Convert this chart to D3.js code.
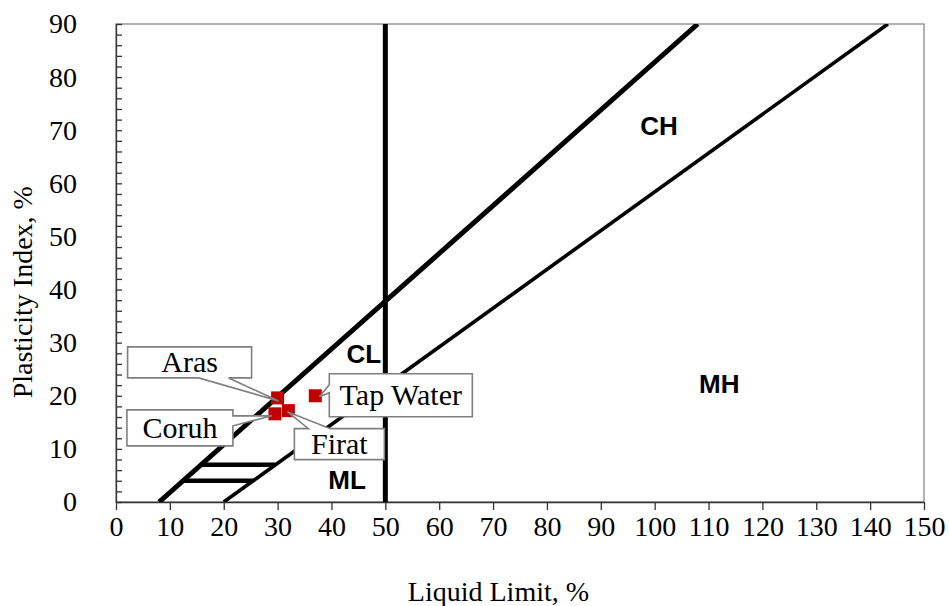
<!DOCTYPE html>
<html lang="en">
<head>
<meta charset="UTF-8">
<title>Plasticity chart</title>
<script src="https://d3js.org/d3.v7.min.js"></script>
<style>
  body { margin: 0; background: #fff; }
  svg { display: block; background: #fff; }
  .serif { font-family: "Liberation Serif", "Times New Roman", serif; fill: #000; }
  .axis text { font-family: "Liberation Serif", "Times New Roman", serif; font-size: 28px; fill: #000; }
  .axis .domain, .axis line { stroke: #333; stroke-width: 1.3px; }
  .zone { font-family: "Liberation Sans", Arial, sans-serif; font-weight: bold; font-size: 26px; fill: #000; }
  .callout { fill: #fff; stroke: #7f7f7f; stroke-width: 1.6px; }
</style>
</head>
<body>
<svg width="949" height="606"></svg>
<script>
// samples
const samples = ["Aras", "Firat", "Coruh", "Tap Water"];
const liquidLimit = [30, 32, 29.5, 37];
const plasticityIndex = [19.6, 17.2, 16.6, 20];

// classification lines, in (LL, PI)
const uLine = [[8, 0], [108, 90]];
const aLine = [[20, 0], [143.3, 90]];
const llLine = [[50, 0], [50, 90]];
const clmlTop = [[15.8, 7], [29.6, 7]];
const clmlBottom = [[12.4, 4], [25.5, 4]];

// zone labels
const zones = ["CH", "CL", "MH", "ML"];
const zoneLL = [100.8, 46, 112, 42.9];
const zonePI = [70.8, 27.9, 22.2, 4.1];

// ticks
const xTickValues = [0, 10, 20, 30, 40, 50, 60, 70, 80, 90, 100, 110, 120, 130, 140, 150];
const yTickValues = [0, 10, 20, 30, 40, 50, 60, 70, 80, 90];

const W = 949, H = 606;
const margin = { top: 24, right: 25, bottom: 104, left: 116 };
const iw = W - margin.left - margin.right;
const ih = H - margin.top - margin.bottom;

const svg = d3.select('svg');
const g = svg.append('g').attr('transform', `translate(${margin.left},${margin.top})`);

const x = d3.scaleLinear().domain([0, 150]).range([0, iw]);
const y = d3.scaleLinear().domain([0, 90]).range([ih, 0]);

// frame (top/right in grey)
g.append('rect')
  .attr('width', iw).attr('height', ih)
  .attr('fill', 'none').attr('stroke', '#888').attr('stroke-width', 1.3);

// minor y ticks
g.append('g').attr('class', 'axis')
  .call(d3.axisLeft(y).tickValues(d3.range(0, 91, 2).filter(v => v % 10 !== 0)).tickSize(-6).tickFormat(''))
  .call(a => a.select('.domain').remove());

g.append('g').attr('class', 'axis')
  .call(d3.axisLeft(y).tickValues(yTickValues).tickSize(-6).tickSizeOuter(0).tickPadding(39));

g.append('g').attr('class', 'axis')
  .attr('transform', `translate(0,${ih})`)
  .call(d3.axisBottom(x).tickValues(xTickValues).tickSize(8).tickSizeOuter(0).tickPadding(6));

// axis titles
svg.append('text').attr('class', 'serif')
  .attr('x', margin.left + x(71)).attr('y', 601)
  .attr('text-anchor', 'middle').attr('font-size', 28)
  .text('Liquid Limit, %');

svg.append('text').attr('class', 'serif')
  .attr('transform', `translate(32,${margin.top + y(39.5)}) rotate(-90)`)
  .attr('text-anchor', 'middle').attr('font-size', 28)
  .text('Plasticity Index, %');

// classification lines
const line = d3.line().x(d => x(d[0])).y(d => y(d[1]));
const lines = [
  { pts: uLine, w: 5 },
  { pts: aLine, w: 3.6 },
  { pts: llLine, w: 5 },
  { pts: clmlTop, w: 4.5 },
  { pts: clmlBottom, w: 4.5 }
];
g.append('defs').append('clipPath').attr('id', 'clip')
  .append('rect').attr('width', iw).attr('height', ih);
g.append('g').attr('clip-path', 'url(#clip)')
  .selectAll('path').data(lines).join('path')
  .attr('d', d => line(d.pts))
  .attr('fill', 'none').attr('stroke', '#000')
  .attr('stroke-width', d => d.w);

// zone labels
g.selectAll('.zone').data(zones).join('text')
  .attr('class', 'zone')
  .attr('x', (d, i) => x(zoneLL[i])).attr('y', (d, i) => y(zonePI[i]) + 9)
  .attr('text-anchor', 'middle')
  .text(d => d);

// points
const pts = samples.map((s, i) => ({ name: s, ll: liquidLimit[i], pi: plasticityIndex[i] }));
const sz = 13;
g.selectAll('.pt').data(pts).join('rect')
  .attr('class', 'pt')
  .attr('x', d => x(d.ll) - sz / 2).attr('y', d => y(d.pi) - sz / 2)
  .attr('width', sz).attr('height', sz)
  .attr('fill', '#c00000');

// callout boxes, offsets in px from the point
const calloutLayout = {
  'Aras':      { dx: -150, dy: -51, w: 124, h: 31, side: 'bottom', b1: 71, b2: 101, tx: 1, ty: 3 },
  'Coruh':     { dx: -148, dy: -4,  w: 106, h: 36, side: 'right',  b1: 6,  b2: 16,  tx: -3, ty: 2 },
  'Firat':     { dx: 6,    dy: 18,  w: 90,  h: 31, side: 'top',    b1: 14, b2: 36,  tx: -1, ty: 1 },
  'Tap Water': { dx: 14,   dy: -22, w: 143, h: 43, side: 'left',   b1: 11, b2: 19,  tx: 4,  ty: 1 }
};

function calloutPath(px, py, c) {
  const x0 = px + c.dx, y0 = py + c.dy, x1 = x0 + c.w, y1 = y0 + c.h;
  const tx = px + c.tx, ty = py + c.ty;
  if (c.side === 'bottom')
    return `M${x0},${y0}H${x1}V${y1}H${x0 + c.b2}L${tx},${ty}L${x0 + c.b1},${y1}H${x0}Z`;
  if (c.side === 'right')
    return `M${x0},${y0}H${x1}V${y0 + c.b1}L${tx},${ty}L${x1},${y0 + c.b2}V${y1}H${x0}Z`;
  if (c.side === 'top')
    return `M${x0},${y0}H${x0 + c.b1}L${tx},${ty}L${x0 + c.b2},${y0}H${x1}V${y1}H${x0}Z`;
  return `M${x0},${y0}H${x1}V${y1}H${x0}V${y0 + c.b2}L${tx},${ty}L${x0},${y0 + c.b1}Z`;
}

const co = g.selectAll('.co').data(pts).join('g').attr('class', 'co');
co.append('path').attr('class', 'callout')
  .attr('d', d => calloutPath(x(d.ll), y(d.pi), calloutLayout[d.name]));
co.append('text').attr('class', 'serif')
  .attr('font-size', 30)
  .attr('text-anchor', 'middle')
  .attr('x', d => x(d.ll) + calloutLayout[d.name].dx + calloutLayout[d.name].w / 2)
  .attr('y', d => y(d.pi) + calloutLayout[d.name].dy + calloutLayout[d.name].h / 2 + 10)
  .text(d => d.name);
</script>
</body>
</html>
